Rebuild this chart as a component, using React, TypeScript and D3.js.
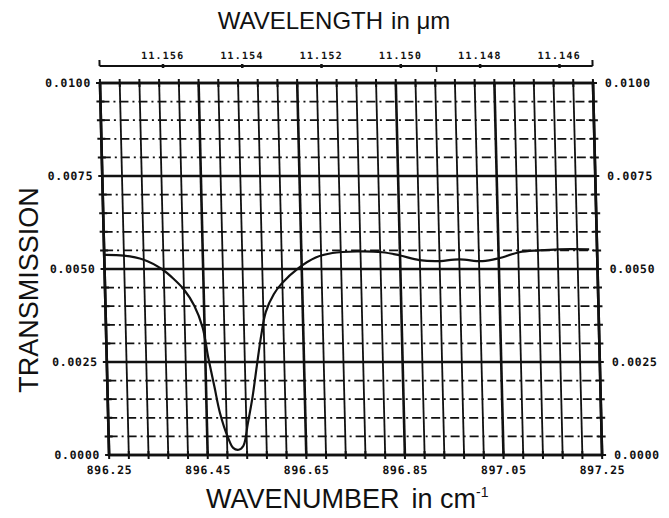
import React from 'react';
import * as d3 from 'd3';

// Data
const wavenumber = [
  896.25, 896.29, 896.33, 896.366, 896.39, 896.41, 896.43, 896.446, 896.456, 896.467,
  896.477, 896.492, 896.502, 896.513, 896.523, 896.533, 896.544, 896.554, 896.565, 896.575,
  896.592, 896.608, 896.644, 896.679, 896.713, 896.763, 896.814, 896.848, 896.889, 896.923,
  896.97, 897.017, 897.051, 897.092, 897.132, 897.173, 897.234,
];
const transmission = [
  0.00538, 0.00536, 0.00525, 0.005, 0.00473, 0.00445, 0.00402, 0.00343, 0.00262, 0.00184,
  0.00113, 0.00047, 0.00019, 0.00014, 0.00025, 0.00085, 0.00157, 0.00239, 0.00325, 0.00385,
  0.00432, 0.0046, 0.00503, 0.00531, 0.00543, 0.00547, 0.00545, 0.00537, 0.00524, 0.00521,
  0.00526, 0.00521, 0.00529, 0.00545, 0.0055, 0.00553, 0.00553,
];
const yTickValues = [0, 0.0025, 0.005, 0.0075, 0.01];
const xTickValues = [896.25, 896.45, 896.65, 896.85, 897.05, 897.25];
const wavelengthTicks = [11.156, 11.154, 11.152, 11.15, 11.148, 11.146];

export default function App() {
  const W = 669, H = 518;
  const left = 100, top = 83, pw = 493, ph = 372;
  const skew = 1.4;
  const x = d3.scaleLinear().domain([896.25, 897.25]).range([0, pw]);
  const y = d3.scaleLinear().domain([0, 0.01]).range([ph, 0]);
  const line = d3
    .line<number>()
    .x((_, i) => x(wavenumber[i]))
    .y((d) => y(d))
    .curve(d3.curveCatmullRom.alpha(0.5));

  const xGrid = d3.range(26).map((i) => 896.25 + i * 0.04);
  const yGrid = d3.range(21).map((i) => i * 0.0005);
  const fy = d3.format('.4f');
  const fx = d3.format('.2f');
  const fl = d3.format('.3f');
  const monoFont = "'DejaVu Sans Mono', monospace";
  const sans = "'Liberation Sans', Arial, sans-serif";
  const topAxisY = -17;

  return (
    <svg width={W} height={H} style={{ position: 'absolute', left: 0, top: 0, background: '#fff' }}>
      <rect width={W} height={H} fill="#fff" />
      <g transform={`translate(${left},${top}) skewX(${skew})`}>
        {/* vertical grid */}
        {xGrid.map((v, i) => (
          <line key={'vx' + i} x1={x(v)} x2={x(v)} y1={0} y2={ph} stroke="#111"
            strokeWidth={i % 5 === 0 ? 2.6 : 1.8} />
        ))}
        {/* horizontal grid */}
        {yGrid.map((v, i) => (
          <line key={'hy' + i} x1={0} x2={pw} y1={y(v)} y2={y(v)} stroke="#111"
            strokeWidth={i % 5 === 0 ? 2.4 : 1.7}
            strokeDasharray={i % 5 === 0 ? undefined : '9,4,2,4'} />
        ))}
        {/* frame ticks */}
        {yGrid.map((v, i) => (
          <g key={'ty' + i}>
            <line x1={-4} x2={4} y1={y(v)} y2={y(v)} stroke="#111" strokeWidth={2} />
            <line x1={pw - 4} x2={pw + 4} y1={y(v)} y2={y(v)} stroke="#111" strokeWidth={2} />
          </g>
        ))}
        {xGrid.map((v, i) => (
          <g key={'tx' + i}>
            <line x1={x(v)} x2={x(v)} y1={-4} y2={4} stroke="#111" strokeWidth={2} />
            <line x1={x(v)} x2={x(v)} y1={ph - 4} y2={ph + 4} stroke="#111" strokeWidth={2} />
          </g>
        ))}
        <rect x={0} y={0} width={pw} height={ph} fill="none" stroke="#111" strokeWidth={2.6} />
        {/* spectrum */}
        <path d={line(transmission) || ''} fill="none" stroke="#111" strokeWidth={2.2} />
        {/* left labels */}
        {yTickValues.map((v) => (
          <text key={'ly' + v} x={-9} y={y(v)} dy="0.36em" textAnchor="end" fontFamily={monoFont}
            fontWeight="bold" fontSize={11.5} letterSpacing={0.7} fill="#111">{fy(v)}</text>
        ))}
        {/* right labels */}
        {yTickValues.map((v) => (
          <text key={'ry' + v} x={pw + 12} y={y(v)} dy="0.36em" textAnchor="start" fontFamily={monoFont}
            fontWeight="bold" fontSize={11.5} letterSpacing={0.7} fill="#111">{fy(v)}</text>
        ))}
        {/* bottom labels */}
        {xTickValues.map((v) => (
          <text key={'bx' + v} x={x(v)} y={ph + 19} textAnchor="middle" fontFamily={monoFont}
            fontWeight="bold" fontSize={11.5} letterSpacing={0.7} fill="#111">{fx(v)}</text>
        ))}
        {/* top wavelength axis */}
        <line x1={0} x2={pw} y1={topAxisY} y2={topAxisY} stroke="#111" strokeWidth={2} />
        <line x1={0} x2={0} y1={topAxisY} y2={topAxisY - 6} stroke="#111" strokeWidth={2} />
        <line x1={pw} x2={pw} y1={topAxisY} y2={topAxisY - 6} stroke="#111" strokeWidth={2} />
        <line x1={x(1e4 / 11.1491)} x2={x(1e4 / 11.1491)} y1={topAxisY} y2={topAxisY + 6} stroke="#111" strokeWidth={1.5} />
        {wavelengthTicks.map((l) => (
          <g key={'wl' + l}>
            <line x1={x(1e4 / l)} x2={x(1e4 / l)} y1={topAxisY - 2} y2={topAxisY + 2} stroke="#111" strokeWidth={2.5} />
            <text x={x(1e4 / l)} y={topAxisY - 7} textAnchor="middle" fontFamily={monoFont}
              fontWeight="bold" fontSize={10} letterSpacing={1.2} fill="#111">{fl(l)}</text>
          </g>
        ))}
      </g>
      {/* titles */}
      <text x={334} y={29} textAnchor="middle" fontFamily={sans} fontSize={24} fill="#111">
        <tspan>WAVELENGTH</tspan>
        <tspan dx={8}>in μm</tspan>
      </text>
      <text transform="translate(38,290) rotate(-90)" textAnchor="middle" fontFamily={sans} fontSize={27} fill="#111">
        TRANSMISSION
      </text>
      <text x={206} y={508} fontFamily={sans} fontSize={27} fill="#111">
        <tspan>WAVENUMBER</tspan>
        <tspan dx={12}>in cm</tspan>
        <tspan dy={-11} fontSize={14}>-1</tspan>
      </text>
    </svg>
  );
}
